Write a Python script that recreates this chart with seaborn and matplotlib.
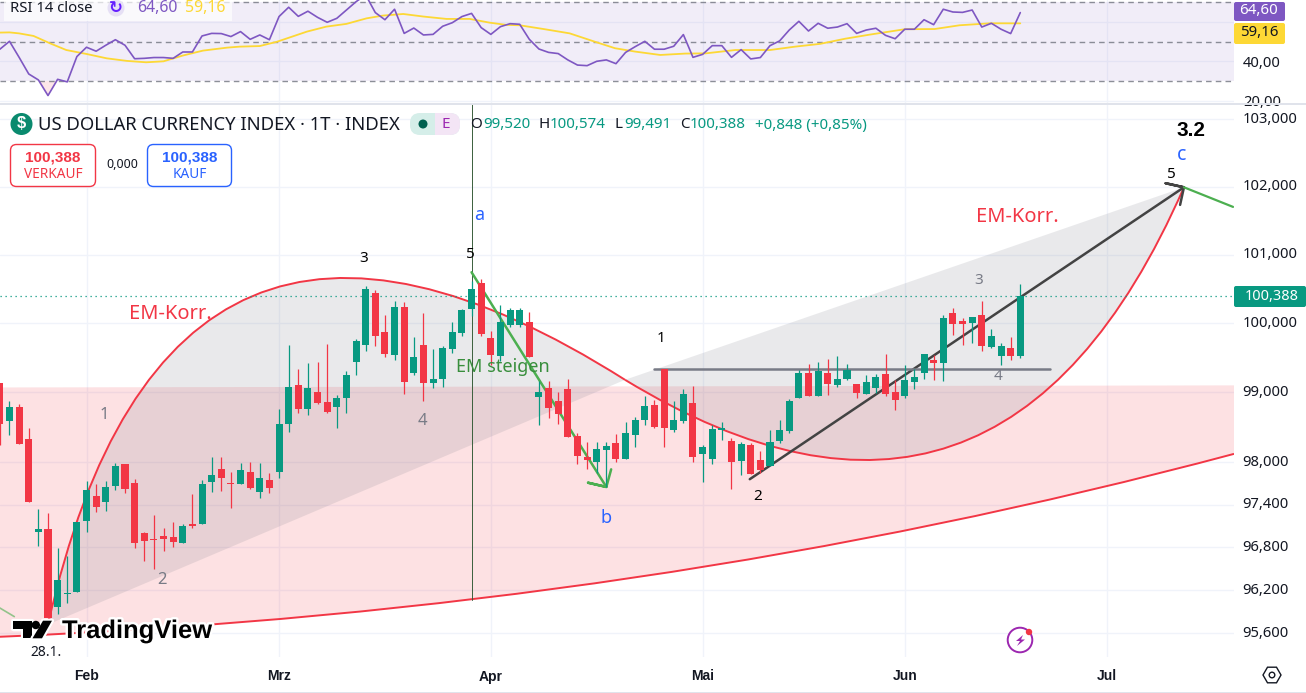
import numpy as np
import pandas as pd
import seaborn as sns
import matplotlib.pyplot as plt
import matplotlib.patheffects as pe
from matplotlib.path import Path
from matplotlib.patches import PathPatch, Rectangle, FancyBboxPatch, Circle, Polygon, RegularPolygon
from matplotlib.transforms import ScaledTranslation

sns.set_theme(style='white')
plt.rcParams['font.family'] = ['Noto Sans', 'DejaVu Sans']

# daily candles, first one is six sessions before 28.1.
highs = [99.14, 98.88, 98.83, 98.49, 97.34, 97.28, 96.79, 96.67, 97.15, 97.73,
         97.69, 97.73, 97.99, 97.97, 97.76, 97.01, 97.26, 97.07, 97.15, 97.12,
         97.55, 97.75, 98.07, 98.07, 97.86, 97.99, 98.00, 97.99, 97.85, 98.76,
         99.68, 99.33, 99.42, 99.44, 99.70, 98.96, 99.31, 99.77, 100.54, 100.48,
         100.12, 100.32, 100.31, 99.80, 100.15, 99.62, 99.67, 100.01, 100.20, 100.61,
         100.64, 99.88, 100.26, 100.22, 100.22, 100.16, 99.16, 99.16, 99.00, 99.19,
         98.42, 98.29, 98.29, 98.29, 98.40, 98.58, 98.65, 98.95, 98.89, 99.33,
         98.88, 99.05, 99.09, 98.25, 98.53, 98.58, 98.35, 98.29, 98.27, 98.16,
         98.46, 98.60, 98.91, 99.32, 99.41, 99.44, 99.48, 99.52, 99.41, 99.12,
         99.25, 99.26, 99.55, 99.18, 99.39, 99.33, 99.55, 99.54, 100.12, 100.22,
         100.07, 100.09, 100.32, 99.91, 99.71, 99.80, 100.574]
opens = [99.13, 98.59, 98.79, 98.33, 97.02, 97.05, 95.96, 96.15, 96.17, 97.17,
         97.52, 97.43, 97.67, 97.97, 97.70, 97.00, 96.91, 96.96, 96.94, 96.86,
         97.12, 97.12, 97.72, 97.90, 97.70, 97.69, 97.86, 97.58, 97.75, 97.86,
         98.55, 99.10, 98.76, 99.00, 98.86, 98.79, 98.92, 99.44, 99.68, 100.44,
         99.87, 99.54, 100.23, 99.28, 99.68, 99.13, 99.19, 99.62, 99.86, 100.20,
         100.58, 99.78, 99.52, 99.97, 99.97, 100.01, 98.93, 99.06, 98.88, 99.05,
         98.37, 98.07, 98.00, 98.17, 98.27, 98.05, 98.39, 98.60, 98.82, 99.33,
         98.46, 98.59, 98.85, 98.12, 98.05, 98.46, 98.30, 98.02, 98.25, 98.03,
         97.95, 98.30, 98.45, 98.92, 99.28, 98.95, 99.28, 99.10, 99.19, 99.12,
         98.98, 99.06, 99.26, 99.00, 98.95, 99.15, 99.28, 99.46, 99.42, 100.15,
         100.03, 100.00, 100.12, 99.65, 99.52, 99.64, 99.52]
closes = [98.55, 98.79, 98.26, 97.44, 97.05, 95.81, 96.34, 96.16, 97.15, 97.61,
          97.37, 97.65, 97.95, 97.62, 96.86, 96.89, 96.90, 96.91, 96.87, 97.10,
          97.10, 97.69, 97.82, 97.78, 97.69, 97.89, 97.63, 97.78, 97.63, 98.55,
          99.08, 98.76, 99.06, 98.85, 98.72, 98.92, 99.25, 99.74, 100.49, 99.81,
          99.55, 100.23, 99.15, 99.51, 99.13, 99.19, 99.64, 99.87, 100.19, 100.49,
          99.84, 99.54, 100.01, 100.19, 100.19, 99.51, 99.00, 98.78, 98.69, 98.36,
          98.09, 98.03, 98.19, 98.23, 98.05, 98.42, 98.60, 98.80, 98.50, 98.49,
          98.60, 98.98, 98.07, 98.22, 98.48, 98.49, 98.00, 98.26, 97.83, 97.89,
          98.29, 98.46, 98.88, 99.28, 98.95, 99.31, 99.12, 99.19, 99.32, 98.99,
          99.15, 99.22, 98.98, 98.89, 99.18, 99.22, 99.55, 99.42, 100.07, 99.99,
          99.99, 100.09, 99.67, 99.81, 99.67, 99.52, 100.388]
lows = [98.25, 98.39, 98.26, 97.43, 96.81, 95.76, 95.87, 96.02, 96.17, 97.02,
        97.29, 97.31, 97.61, 97.56, 96.79, 96.61, 96.50, 96.75, 96.80, 96.86,
        97.07, 97.12, 97.58, 97.59, 97.35, 97.69, 97.62, 97.49, 97.56, 97.78,
        98.43, 98.70, 98.68, 98.83, 98.70, 98.49, 98.70, 99.25, 99.59, 99.67,
        99.51, 99.46, 98.98, 99.25, 98.88, 99.06, 99.08, 99.57, 99.81, 100.10,
        99.81, 99.39, 99.45, 99.94, 99.94, 99.51, 98.53, 98.63, 98.55, 98.36,
        97.97, 97.90, 97.85, 97.65, 98.00, 98.05, 98.22, 98.53, 98.49, 98.22,
        98.43, 98.56, 98.00, 97.72, 97.97, 98.32, 97.62, 97.82, 97.83, 97.85,
        97.95, 98.27, 98.42, 98.92, 98.95, 98.95, 98.96, 99.08, 99.18, 98.92,
        98.98, 98.99, 98.95, 98.75, 98.92, 99.05, 99.19, 99.18, 99.16, 99.83,
        99.68, 99.71, 99.59, 99.64, 99.39, 99.46, 99.491]

rsi_vals = [46.1, 50.1, 42.0, 33.6, 30.6, 22.7, 30.9, 29.6, 42.4, 47.1,
            45.1, 48.1, 50.9, 48.1, 41.3, 41.5, 41.9, 41.9, 41.5, 44.7,
            44.7, 52.8, 54.1, 54.0, 52.5, 55.0, 51.1, 53.3, 50.9, 62.6,
            67.3, 62.7, 65.3, 62.2, 59.7, 61.7, 65.9, 70.1, 73.5, 64.6,
            61.0, 66.3, 54.1, 56.8, 53.3, 53.6, 57.7, 59.5, 62.6, 64.2,
            57.0, 53.6, 57.5, 59.0, 58.7, 51.1, 46.2, 44.5, 43.9, 40.7,
            38.1, 37.8, 40.0, 40.7, 38.8, 44.5, 47.4, 50.1, 46.1, 46.1,
            47.6, 53.5, 42.0, 43.5, 47.9, 47.9, 42.0, 45.9, 41.2, 41.9,
            47.9, 50.3, 55.8, 60.2, 55.3, 59.2, 56.7, 57.3, 59.0, 54.1,
            55.8, 56.7, 53.1, 51.4, 56.2, 56.2, 61.0, 58.5, 66.3, 64.9,
            64.7, 65.9, 57.3, 59.2, 56.2, 54.0, 64.60]
ma_idx = [-5, -4, -3, -1.5, 0.2, 1.9, 4, 6.1, 8.2, 10.2, 12, 14, 16.1, 18.6, 19.9,
          22, 23.8, 26.9, 28.9, 31, 33.1, 34.8, 36.9, 39, 41.4, 43.8, 45.9, 47.6,
          49, 51.6, 54.2, 56.8, 58.9, 61, 63.6, 66.2, 68.3, 71.4, 75, 77.6, 80.2,
          82.8, 85.4, 89, 92.1, 94.7, 97.9, 101]
ma_vals = [54.5, 54.6, 54.1, 52.8, 49.1, 45.7, 43.7, 41.5, 40.2, 39.5, 40.0, 42.9,
           45.4, 46.9, 47.4, 47.7, 49.9, 55.0, 57.5, 58.9, 61.7, 63.1, 63.9, 62.6,
           61.4, 61.4, 59.5, 58.4, 58.2, 56.2, 54.1, 49.9, 46.6, 44.9, 43.2, 43.9,
           44.0, 45.7, 45.7, 47.4, 48.8, 51.4, 53.5, 56.2, 56.3, 58.2, 59.2, 59.16]

month_idx = [4, 24, 46, 68, 89, 110]
month_labels = ['Feb', 'Mrz', 'Apr', 'Mai', 'Jun', 'Jul']
price_ticks = [103, 102, 101, 100, 99, 98, 97.4, 96.8, 96.2, 95.6]
price_labels = ['103,000', '102,000', '101,000', '100,000', '99,000', '98,000',
                '97,400', '96,800', '96,200', '95,600']

# drawings on the chart: (candle index, price)
arc_x = [0, 12.47, 59.94, 98.89, 118.0]
arc_y = [95.72, 103.44, 99.18, 95.95, 101.99]
base_x = [-5, 62.5, 123.2]
base_y = [95.55, 95.92, 98.12]
band_top = [99.07, 99.10]
em_x = [44, 58, 56.1, 58, 58.5]
em_y = [100.74, 97.65, 97.71, 97.65, 97.90]
up_x = [72.9, 118, 116.1, 118, 117.6]
up_y = [97.76, 101.99, 102.05, 101.99, 101.73]

GREEN = '#089981'
RED = '#F23645'
GRID = '#F0F3FA'
INK = '#131722'
BOLD = 'Liberation Sans'
W, H = 1306, 693

df = pd.DataFrame({'idx': np.arange(-5, 102), 'open': opens, 'high': highs, 'low': lows,
                   'close': closes, 'rsi': rsi_vals})
df['color'] = np.where(df['close'] >= df['open'], GREEN, RED)

fig = plt.figure(figsize=(W / 100, H / 100), dpi=100, facecolor='white')
ax_rsi = fig.add_axes([0, (H - 103) / H, 1234 / W, 103 / H])
ax = fig.add_axes([0, (H - 657) / H, 1234 / W, (657 - 104) / H])
xlim = (-4.986, 123.2)

# RSI pane
ax_rsi.axhspan(30, 70, color='#7E57C2', alpha=0.1, lw=0)
for level in [70, 50, 30]:
    ax_rsi.axhline(level, color='#787B86', lw=1, ls=(0, (4, 3)), alpha=0.85)
ax_rsi.fill_between(df['idx'], df['rsi'], 30, where=df['rsi'] < 30, interpolate=True,
                    color=RED, alpha=0.12, lw=0)
sns.lineplot(x=ma_idx, y=ma_vals, ax=ax_rsi, color='#FDD835', lw=1.3, sort=False)
sns.lineplot(data=df, x='idx', y='rsi', ax=ax_rsi, color='#7E57C2', lw=1.2)
ax_rsi.set_xlim(xlim)
ax_rsi.set_ylim(18.94, 70.96)
ax_rsi.set_xticks(month_idx, [''] * 6)
ax_rsi.set_yticks([60, 40, 20], ['', '40,00', '20,00'])
ax_rsi.yaxis.tick_right()
ax_rsi.set_xlabel('')
ax_rsi.set_ylabel('')
ax_rsi.tick_params(length=0, labelsize=10.6, labelcolor=INK, pad=6.5)
ax_rsi.grid(True, color=GRID, lw=1)
ax_rsi.set_axisbelow(True)
for s in ax_rsi.spines.values():
    s.set_visible(False)

# price pane
ax.set_yscale('log')
ax.set_xlim(xlim)
ax.set_ylim(95.27, 103.23)
ax.minorticks_off()
ax.set_yticks(price_ticks, price_labels)
ax.set_xticks(month_idx, month_labels)
ax.yaxis.tick_right()
ax.tick_params(axis='y', length=0, labelsize=10.6, labelcolor=INK, pad=6)
ax.tick_params(axis='x', length=0, labelsize=10, labelcolor=INK, pad=9)
for lab in ax.get_xticklabels():
    lab.set_fontfamily(BOLD)
    lab.set_fontweight('bold')
up2 = ScaledTranslation(0, 2 / 100, fig.dpi_scale_trans)
for lab in ax.get_yticklabels():
    lab.set_transform(lab.get_transform() + up2)
ax.grid(True, color=GRID, lw=1)
ax.set_axisbelow(True)
for s in ax.spines.values():
    s.set_visible(False)

# pink band under the long curve
verts = [(base_x[0], base_y[0]), (base_x[1], base_y[1]), (base_x[2], base_y[2]),
         (base_x[2], band_top[1]), (base_x[0], band_top[0]), (base_x[0], base_y[0])]
codes = [Path.MOVETO, Path.CURVE3, Path.CURVE3, Path.LINETO, Path.LINETO, Path.CLOSEPOLY]
ax.add_patch(PathPatch(Path(verts, codes), fc=RED, alpha=0.15, lw=0, zorder=1))
ax.add_patch(PathPatch(Path(list(zip(base_x, base_y)), [Path.MOVETO, Path.CURVE3, Path.CURVE3]),
                       fc='none', ec=RED, lw=1.4, zorder=2))

# the two grey lobes
for a in [0, 2]:
    pts = list(zip(arc_x[a:a + 3], arc_y[a:a + 3]))
    ax.add_patch(PathPatch(Path(pts + [pts[0]], [Path.MOVETO, Path.CURVE3, Path.CURVE3, Path.CLOSEPOLY]),
                           fc='#787B86', alpha=0.16, lw=0, zorder=1.5))
    ax.add_patch(PathPatch(Path(pts, [Path.MOVETO, Path.CURVE3, Path.CURVE3]),
                           fc='none', ec=RED, lw=1.4, zorder=2))

# wave drawings
ax.axhline(closes[-1], color=GREEN, lw=0.9, ls=(0, (1, 3)), zorder=2)
ax.plot([44, 44], [96.06, 103.23], color='#3A5F3C', lw=0.7, zorder=2)
ax.plot(em_x, em_y, color='#4CAF50', lw=1.8, zorder=2.2, solid_capstyle='round')
ax.plot(up_x, up_y, color='#434343', lw=1.8, zorder=2.2)
ax.plot([118, 123.1], [101.99, 101.70], color='#4CAF50', lw=1.6, zorder=2.2)
ax.plot([-5, -3.5], [95.95, 95.83], color='#4CAF50', lw=1.2, alpha=0.6, zorder=2.2)
ax.plot([62.95, 104.1], [99.33, 99.33], color='#787B86', lw=1.8, zorder=2.2)

# candles sit on top of the drawings
ax.vlines(df['idx'], df['low'], df['high'], colors=df['color'], lw=0.9, zorder=3)
ax.bar(df['idx'], (df['close'] - df['open']).abs().clip(lower=0.012),
       bottom=df[['open', 'close']].min(axis=1), width=0.73, color=df['color'], lw=0, zorder=3.1)

# everything else is placed in screen pixels on a full figure overlay
ui = fig.add_axes([0, 0, 1, 1], zorder=5)
ui.set_xlim(0, W)
ui.set_ylim(H, 0)
ui.axis('off')
ui.patch.set_alpha(0)

def label(x, y, s, color=INK, size=10.6, ha='center', weight='normal', **kw):
    return ui.text(x, y, s, color=color, fontsize=size, ha=ha, va='center', fontweight=weight, **kw)

ui.add_patch(Rectangle((0, 102.5), W, 2, fc='#E0E3EB', lw=0))
ui.add_patch(Rectangle((0, 691.5), W, 2, fc='#E0E3EB', lw=0))

# RSI legend and value tags
ui.add_patch(Rectangle((4, 0), 228, 21, fc='white', alpha=0.7, lw=0))
label(10, 8, 'RSI 14 close', ha='left', size=10.7)
ui.add_patch(Circle((116, 8), 8.5, fc='#E6E0F5', lw=0))
label(116, 7.5, '\u21bb', color='#651FFF', size=12, weight='bold', family='DejaVu Sans')
label(137, 8, '64,60', color='#7E57C2', ha='left', size=11.4)
label(185, 8, '59,16', color='#FDD835', ha='left', size=11.4)
ui.add_patch(FancyBboxPatch((1234, 2), 51, 19, boxstyle='round,pad=0,rounding_size=2', fc='#7E57C2', lw=0))
label(1259, 10.5, '64,60', color='white', size=10.8)
ui.add_patch(FancyBboxPatch((1234, 23), 51, 21, boxstyle='round,pad=0,rounding_size=2', fc='#FDD835', lw=0))
label(1259, 33, '59,16', color=INK, size=10.8)

# symbol header
ui.add_patch(Circle((21.5, 124), 11, fc='#0A8A6E', lw=0))
label(21.5, 124, '$', color='white', size=12, weight='bold', family=BOLD)
label(38, 125, 'US DOLLAR CURRENCY INDEX \u00b7 1T \u00b7 INDEX', ha='left', size=13.3)
ui.add_patch(FancyBboxPatch((410, 113), 50, 22, boxstyle='round,pad=0,rounding_size=10', fc='#D5EEE9', lw=0))
ui.add_patch(FancyBboxPatch((435, 113), 25, 22, boxstyle='round,pad=0,rounding_size=10', fc='#F3E5F5', lw=0))
ui.add_patch(Rectangle((435, 113), 10, 22, fc='#F3E5F5', lw=0))
ui.add_patch(Circle((423, 124), 4.5, fc='#006150', lw=0))
label(446, 124, 'E', color='#9C27B0', size=11)
for x, s, c in [(470, 'O', INK), (483, '99,520', GREEN), (538, 'H', INK), (550, '100,574', GREEN),
                (615, 'L', INK), (624, '99,491', GREEN), (680, 'C', INK), (690, '100,388', GREEN),
                (755, '+0,848 (+0,85%)', GREEN)]:
    label(x, 125, s, color=c, ha='left', size=10.9)

# bid / ask boxes
ui.add_patch(FancyBboxPatch((10.5, 144.5), 85, 42, boxstyle='round,pad=0,rounding_size=6', fc='white', ec=RED, lw=1))
label(53, 157, '100,388', color=RED, weight='bold', size=11, family=BOLD)
label(53, 174, 'VERKAUF', color=RED, size=9.8)
label(122, 165, '0,000', size=9)
ui.add_patch(FancyBboxPatch((147.5, 144.5), 84, 42, boxstyle='round,pad=0,rounding_size=6', fc='white', ec='#2962FF', lw=1))
label(190, 157, '100,388', color='#2962FF', weight='bold', size=11, family=BOLD)
label(190, 174, 'KAUF', color='#2962FF', size=9.8)

# last price tag
ui.add_patch(FancyBboxPatch((1234, 286), 72, 21, boxstyle='round,pad=0,rounding_size=2', fc=GREEN, lw=0))
label(1272, 296, '100,388', color='white', size=10.4)

# wave labels
GREY = '#787B86'
label(1191, 130, '3.2', color='black', size=15, weight='bold', family=BOLD)
label(1182, 155, 'c', color='#2962FF', size=14)
label(1171, 174, '5', color='black', size=11)
label(1017, 217, 'EM-Korr.', color=RED, size=14.4)
label(170, 314, 'EM-Korr.', color=RED, size=14.4)
label(503, 367, 'EM steigen', color='#388E3C', size=13)
label(364, 258, '3', color='black', size=11)
label(470, 254, '5', color='black', size=11)
label(479, 215, 'a', color='#2962FF', size=13)
label(606, 518, 'b', color='#2962FF', size=13)
label(661, 339, '1', color='black', size=11)
label(758, 497, '2', color='black', size=11)
label(979, 281, '3', color=GREY, size=11)
label(998, 377, '4', color=GREY, size=11)
label(104, 415, '1', color=GREY, size=12)
label(162, 580, '2', color=GREY, size=12)
label(422, 421, '4', color=GREY, size=12)

# logo
halo = [pe.withStroke(linewidth=3.5, foreground='white')]
for poly in [[(13.3, 620.7), (31.7, 620.7), (31.7, 638.3), (22.7, 638.3), (22.7, 629.3), (13.3, 629.3)],
             [(43, 620.7), (52, 620.7), (42, 638.3), (32.5, 638.3)]]:
    ui.add_patch(Polygon(poly, closed=True, fc='black', ec='white', lw=2.5, joinstyle='round',
                         path_effects=[pe.Stroke(linewidth=3, foreground='white'), pe.Normal()]))
    ui.add_patch(Polygon(poly, closed=True, fc='black', lw=0))
ui.add_patch(Circle((35.8, 625), 4.2, fc='black', ec='white', lw=0))
label(62, 631, 'TradingView', color='black', ha='left', size=18.4, family=BOLD, weight='bold',
      path_effects=halo)
label(46, 652, '28.1.', size=10)

# lightning badge
ui.add_patch(Circle((1020, 640), 12.3, fc='white', ec='#9C27B0', lw=1.4))
ui.add_patch(Polygon([(1023, 635), (1016, 641), (1020, 641), (1017, 646), (1025, 639.5), (1021, 639.5)],
                     closed=True, fc='#9C27B0', lw=0))
ui.add_patch(Circle((1029, 632), 3.2, fc=RED, lw=0))

# settings hexagon
ui.add_patch(RegularPolygon((1272, 675), 6, radius=9, orientation=np.pi / 6, fc='none', ec=INK, lw=1))
ui.add_patch(Circle((1272, 675), 2.8, fc='none', ec=INK, lw=1))

fig.savefig('out.png', dpi=100)
